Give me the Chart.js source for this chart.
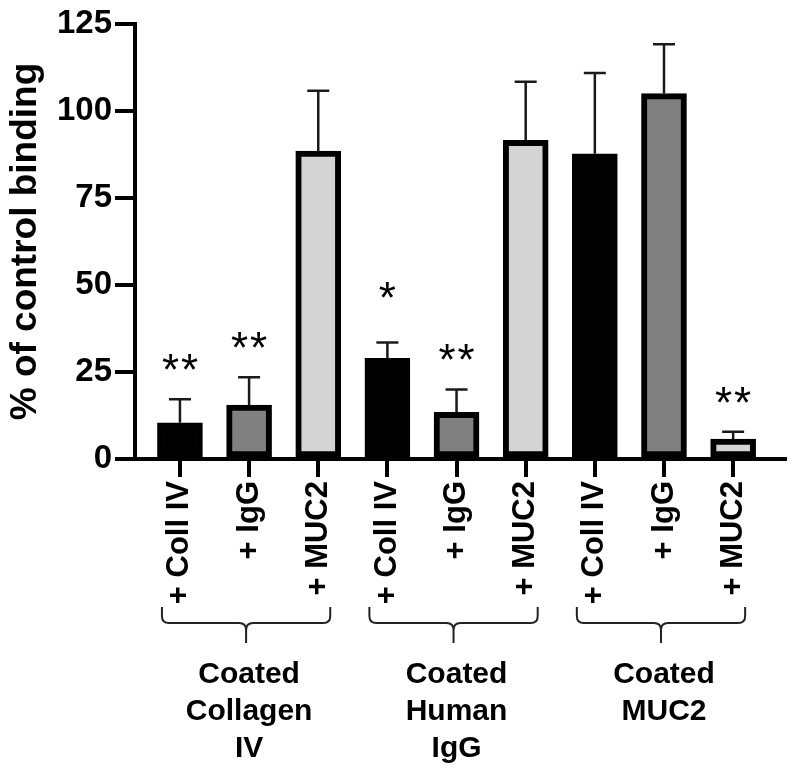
<!DOCTYPE html>
<html>
<head>
<meta charset="utf-8">
<script src="https://cdn.jsdelivr.net/npm/chart.js@4/dist/chart.umd.min.js"></script>
<style>
  html, body { margin: 0; padding: 0; background: #fff; }
</style>
</head>
<body>
<canvas id="chart" width="796" height="772"></canvas>
<script>
// Values
const treatments = ['+ Coll IV', '+ IgG', '+ MUC2', '+ Coll IV', '+ IgG', '+ MUC2', '+ Coll IV', '+ IgG', '+ MUC2'];
const bindingMeans = [10.4, 15.5, 88.5, 28.9, 13.4, 91.6, 87.7, 105.0, 5.7];
const bindingErrors = [6.8, 8.0, 17.3, 4.6, 6.6, 16.8, 23.2, 14.2, 2.1];
const significance = ['**', '**', '', '*', '**', '', '', '', '**'];
const groupLabels = [['Coated', 'Collagen', 'IV'], ['Coated', 'Human', 'IgG'], ['Coated', 'MUC2']];
const yTicks = [0, 25, 50, 75, 100, 125];

const barFills = ['#000000', '#808080', '#d4d4d4', '#000000', '#808080', '#d4d4d4', '#000000', '#808080', '#d4d4d4'];
const FONT = "'Liberation Sans', Arial, sans-serif";

// upward-only SEM bars
const errorBars = {
  id: 'errorBars',
  afterDatasetsDraw(chart) {
    const { ctx, scales: { x, y } } = chart;
    ctx.save();
    ctx.strokeStyle = '#1a1a1a';
    ctx.lineWidth = 2.5;
    bindingMeans.forEach((v, i) => {
      const cx = x.getPixelForValue(i);
      const y0 = y.getPixelForValue(v);
      const y1 = y.getPixelForValue(v + bindingErrors[i]);
      ctx.beginPath();
      ctx.moveTo(cx, y0);
      ctx.lineTo(cx, y1);
      ctx.moveTo(cx - 11, y1);
      ctx.lineTo(cx + 11, y1);
      ctx.stroke();
    });
    ctx.restore();
  }
};

// significance stars above the error bars, drawn one by one so they sit apart
const stars = {
  id: 'stars',
  afterDatasetsDraw(chart) {
    const { ctx, scales: { x, y } } = chart;
    ctx.save();
    ctx.fillStyle = '#000';
    ctx.font = '44px ' + FONT;
    ctx.textAlign = 'center';
    ctx.textBaseline = 'alphabetic';
    significance.forEach((s, i) => {
      if (!s) return;
      const top = y.getPixelForValue(bindingMeans[i] + bindingErrors[i]);
      const gap = s.length === 1 ? 54 : 39;
      const cx = x.getPixelForValue(i);
      const step = 19;
      for (let k = 0; k < s.length; k++) {
        const dx = (k - (s.length - 1) / 2) * step;
        ctx.fillText('*', cx + dx, top - gap + 25);
      }
    });
    ctx.restore();
  }
};

// curly braces and group names under the tick labels
const groups = {
  id: 'groups',
  afterDraw(chart) {
    const { ctx, chartArea, scales: { x } } = chart;
    const base = chartArea.bottom;
    const yTop = base + 148, yH = base + 164, yBot = base + 184, r = 7;
    ctx.save();
    ctx.strokeStyle = '#222';
    ctx.lineWidth = 2;
    groupLabels.forEach((lines, g) => {
      const x1 = x.getPixelForValue(g * 3) - 18;
      const x2 = x.getPixelForValue(g * 3 + 2) + 12;
      const xm = (x1 + x2) / 2;
      ctx.beginPath();
      ctx.moveTo(x1, yTop);
      ctx.lineTo(x1, yH - r);
      ctx.quadraticCurveTo(x1, yH, x1 + r, yH);
      ctx.lineTo(xm - r, yH);
      ctx.quadraticCurveTo(xm, yH, xm, yH + r);
      ctx.lineTo(xm, yBot);
      ctx.moveTo(xm, yH + r);
      ctx.quadraticCurveTo(xm, yH, xm + r, yH);
      ctx.lineTo(x2 - r, yH);
      ctx.quadraticCurveTo(x2, yH, x2, yH - r);
      ctx.lineTo(x2, yTop);
      ctx.stroke();

      ctx.fillStyle = '#000';
      ctx.font = 'bold 30px ' + FONT;
      ctx.textAlign = 'center';
      ctx.textBaseline = 'alphabetic';
      const cx = (x.getPixelForValue(g * 3) + x.getPixelForValue(g * 3 + 2)) / 2;
      lines.forEach((t, k) => ctx.fillText(t, cx, base + 224 + k * 37));
    });
    ctx.restore();
  }
};

new Chart(document.getElementById('chart'), {
  type: 'bar',
  data: {
    datasets: [{
      data: bindingMeans.map((v, i) => ({ x: i, y: v })),
      backgroundColor: barFills,
      borderColor: '#000',
      borderWidth: 6,
      borderSkipped: false,
      barThickness: 45
    }]
  },
  options: {
    responsive: false,
    animation: false,
    layout: { padding: { top: 24, right: 11, bottom: 0, left: 0 } },
    plugins: { legend: { display: false }, tooltip: { enabled: false } },
    scales: {
      x: {
        type: 'linear',
        min: -0.65,
        max: 8.75,
        offset: false,
        grid: { display: true, offset: false, drawOnChartArea: false, drawTicks: true, tickLength: 18, tickWidth: 4, lineWidth: 4, tickColor: '#000', color: '#000' },
        border: { display: true, color: '#000', width: 4 },
        afterBuildTicks: s => { s.ticks = treatments.map((_, i) => ({ value: i })); },
        afterFit: s => { s.height = 313; s.paddingLeft = 0; s.paddingRight = 0; },
        ticks: {
          autoSkip: false,
          minRotation: 90,
          maxRotation: 90,
          padding: 4,
          color: '#000',
          font: { family: FONT, weight: 'bold', size: 31 },
          callback: v => treatments[v]
        }
      },
      y: {
        min: 0,
        max: 125,
        grid: { drawOnChartArea: false, tickLength: 20, tickWidth: 4, lineWidth: 4, tickColor: '#000', color: '#000' },
        border: { display: true, color: '#000', width: 4 },
        afterBuildTicks: s => { s.ticks = yTicks.map(v => ({ value: v })); },
        afterFit: s => { s.width = 135; },
        ticks: {
          padding: 3,
          color: '#000',
          font: { family: FONT, weight: 'bold', size: 33 }
        },
        title: {
          display: true,
          text: '% of control binding',
          color: '#000',
          font: { family: FONT, weight: 'bold', size: 37 },
          padding: { top: 4, bottom: 0 }
        }
      }
    }
  },
  plugins: [errorBars, stars, groups]
});
</script>
</body>
</html>
